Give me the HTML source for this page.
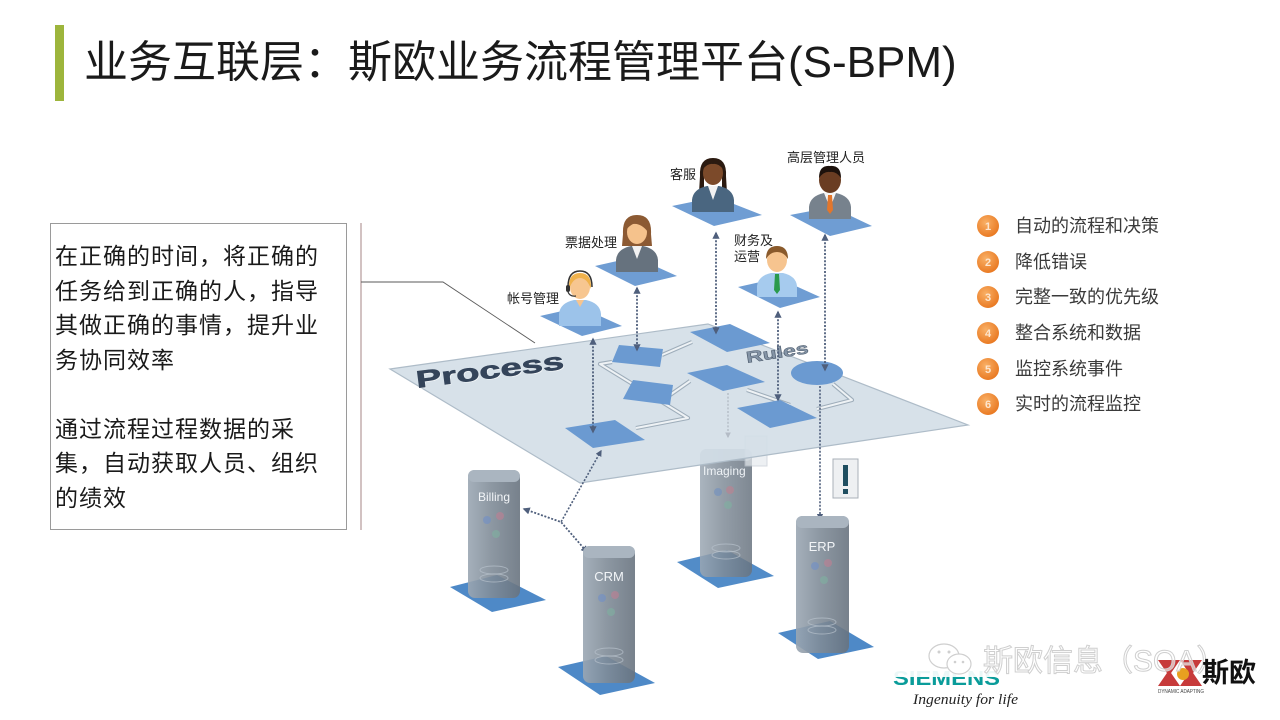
<!DOCTYPE html>
<html><head><meta charset="utf-8"><style>
html,body{margin:0;padding:0;background:#fff;}
#wrap{position:relative;width:1280px;height:720px;overflow:hidden;background:#fff;font-family:"Liberation Sans","Noto Sans CJK SC",sans-serif;}
.abs{position:absolute;white-space:nowrap;}
#title{left:84px;top:40px;font-size:44px;line-height:46px;color:#1a1a1a;font-family:"Liberation Sans","Noto Sans CJK SC",sans-serif;}
#bar{left:55px;top:25px;width:9px;height:76px;background:#9db53c;}
#box{left:50px;top:223px;width:295px;height:305px;border:1px solid #9a9a9a;}
#boxtext{left:55px;top:239px;font-size:23px;line-height:34.5px;letter-spacing:1px;color:#1a1a1a;font-family:"Liberation Sans","Noto Sans CJK SC",sans-serif;white-space:pre;}
.li{position:absolute;left:1015px;font-size:18px;line-height:20px;color:#3a3a3a;font-family:"Liberation Sans","Noto Sans CJK SC",sans-serif;white-space:nowrap;}
#wm{left:983px;top:645px;font-size:30px;line-height:34px;color:rgba(255,255,255,0.6);-webkit-text-stroke:1px #cfcfcf;font-family:"Liberation Sans","Noto Sans CJK SC",sans-serif;}
#soa2{left:1202px;top:658px;font-size:27px;line-height:30px;font-weight:bold;color:#111;font-family:"Liberation Sans","Noto Sans CJK SC",sans-serif;}
</style></head><body><div id="wrap">
<svg width="1280" height="720" viewBox="0 0 1280 720" style="position:absolute;left:0;top:0">
<defs>
<linearGradient id="srv" x1="0" x2="1" y1="0" y2="0">
<stop offset="0" stop-color="#9ba7b3"/><stop offset="0.45" stop-color="#808c98"/><stop offset="1" stop-color="#68737f"/></linearGradient>
<radialGradient id="org" cx="0.4" cy="0.35" r="0.7"><stop offset="0" stop-color="#f9b066"/><stop offset="1" stop-color="#e8761e"/></radialGradient>
<marker id="ah" viewBox="0 0 10 10" refX="8" refY="5" markerWidth="4" markerHeight="4" orient="auto-start-reverse"><path d="M0,0 L10,5 L0,10z" fill="#4f5f7c"/></marker>
<marker id="ah2" viewBox="0 0 10 10" refX="8" refY="5" markerWidth="4" markerHeight="4" orient="auto-start-reverse"><path d="M0,0 L10,5 L0,10z" fill="#b4bcc6"/></marker>
</defs>

<!-- bracket connector -->
<line x1="361" y1="223" x2="361" y2="530" stroke="#b39a9a" stroke-width="1.2"/>
<polyline points="361,282 443,282 535,343" fill="none" stroke="#5a5a5a" stroke-width="0.9"/>

<!-- Imaging server (behind plane) -->
<polygon points="677,562 727,550 774,576 718,588" fill="#3f7fc2" opacity="0.9"/>
<rect x="700" y="449" width="52" height="128" rx="7" fill="url(#srv)" opacity="0.85"/>
<rect x="700" y="449" width="52" height="12" rx="6" fill="#aab5c0" opacity="0.8"/>
<circle cx="718" cy="492" r="4" fill="#6f8fc0" opacity="0.6"/><circle cx="730" cy="490" r="4" fill="#c08090" opacity="0.6"/><circle cx="728" cy="505" r="4" fill="#7fb0a0" opacity="0.6"/>
<ellipse cx="726" cy="548" rx="14" ry="4" fill="none" stroke="#b8c2cc" opacity="0.7"/><ellipse cx="726" cy="555" rx="14" ry="4" fill="none" stroke="#b8c2cc" opacity="0.7"/>
<text x="703" y="475" font-family="Liberation Sans" font-size="12" fill="#eef2f6">Imaging</text>
<rect x="745" y="436" width="22" height="30" fill="#e6ebef" stroke="#c2cad2" opacity="0.7"/>

<!-- plane -->
<polygon points="390,369 708,324 968,425 580,483" fill="#d3dee7" fill-opacity="0.9" stroke="#aebcc8" stroke-width="1.2"/>

<!-- flowchart connector pipes -->
<g fill="none" stroke-linejoin="round">
<g stroke="#9eadba" stroke-width="4.2">
<polyline points="662,355 692,342"/>
<polyline points="612,362 600,364 688,418 636,428"/>
<polyline points="670,395 690,381"/>
<polyline points="747,390 790,405"/>
<polyline points="833,384 852,400 817,409"/>
</g>
<g stroke="#eef2f5" stroke-width="2">
<polyline points="662,355 692,342"/>
<polyline points="612,362 600,364 688,418 636,428"/>
<polyline points="670,395 690,381"/>
<polyline points="747,390 790,405"/>
<polyline points="833,384 852,400 817,409"/>
</g>
</g>
<!-- flowchart shapes -->
<g fill="#6b9ad1">
<polygon points="690,332 730,324 770,343 727,352"/>
<polygon points="619,345 663,349 660,367 612,362"/>
<polygon points="633,380 673,385 670,405 623,399"/>
<polygon points="687,373 727,365 765,382 723,391"/>
<polygon points="737,408 780,400 817,418 770,428"/>
<polygon points="565,428 615,420 645,440 593,448"/>
<ellipse cx="817" cy="373" rx="26" ry="12"/>
</g>
<text transform="translate(417,388) rotate(-7.4)" font-family="Liberation Sans" font-weight="bold" font-size="24" textLength="149" lengthAdjust="spacingAndGlyphs" fill="#ffffff" opacity="0.7" x="1" y="1">Process</text>
<text transform="translate(417,388) rotate(-7.4)" font-family="Liberation Sans" font-weight="bold" font-size="24" textLength="149" lengthAdjust="spacingAndGlyphs" fill="#34445a" stroke="#34445a" stroke-width="0.6">Process</text>
<text transform="translate(747,363) rotate(-9)" font-family="Liberation Sans" font-weight="bold" font-size="16" textLength="63" lengthAdjust="spacingAndGlyphs" fill="#8494a6" stroke="#4f5d6e" stroke-width="0.5">Rules</text>

<!-- person tiles -->
<g fill="#6f9dd3">
<polygon points="672,206 716,197 762,215 714,226"/>
<polygon points="790,215 832,207 872,226 830,236"/>
<polygon points="595,266 635,257 677,276 635,286"/>
<polygon points="738,287 778,278 820,297 780,308"/>
<polygon points="540,316 580,307 622,326 582,336"/>
</g>

<!-- persons -->
<g transform="translate(713,173)">
<path d="M-13,3 Q-14,-15 0,-15 Q14,-15 13,3 L14,20 L9,20 L9,4 L-9,4 L-9,20 L-14,20Z" fill="#2b1a10"/>
<path d="M-21,39 L-21,27 Q-20,16 -6,13 L6,13 Q20,16 21,27 L21,39Z" fill="#4a6680"/>
<path d="M-5,13 L0,27 L5,13Z" fill="#f2f2f2"/>
<ellipse cx="0" cy="0" rx="10" ry="12" fill="#7c4a2a"/>
<path d="M-10,-4 Q-8,-14 0,-13 Q8,-14 10,-4 Q5,-10 0,-9 Q-5,-10 -10,-4Z" fill="#2b1a10"/>
</g>
<g transform="translate(830,180)">
<path d="M-21,39 L-21,27 Q-20,16 -6,13 L6,13 Q20,16 21,27 L21,39Z" fill="#77828d"/>
<path d="M-6,13 L0,28 L6,13Z" fill="#f4f4f4"/>
<path d="M-2,15 L2,15 L3,30 L0,34 L-3,30Z" fill="#e2762c"/>
<ellipse cx="0" cy="0" rx="11" ry="13" fill="#6a3d22"/>
<path d="M-11,-2 Q-11,-15 0,-14 Q11,-15 11,-2 Q6,-9 0,-8 Q-6,-9 -11,-2Z" fill="#1d120c"/>
</g>
<g transform="translate(637,230)">
<path d="M-14,4 Q-15,-15 0,-15 Q15,-15 14,4 L15,16 L-15,16Z" fill="#8c5a33"/>
<path d="M-21,42 L-21,30 Q-20,19 -6,16 L6,16 Q20,19 21,30 L21,42Z" fill="#66727e"/>
<path d="M-5,16 L0,29 L5,16Z" fill="#f2f2f2"/>
<ellipse cx="0" cy="2" rx="10" ry="12" fill="#f5c28c"/>
<path d="M-11,0 Q-8,-13 0,-12 Q9,-12 11,2 Q4,-7 -4,-6 Q-8,-4 -11,0Z" fill="#8c5a33"/>
</g>
<g transform="translate(777,260)">
<path d="M-20,37 L-20,26 Q-19,16 -6,13 L6,13 Q19,16 20,26 L20,37Z" fill="#a6cbee"/>
<path d="M-2,14 L2,14 L3,30 L0,34 L-3,30Z" fill="#2a9a4c"/>
<ellipse cx="0" cy="0" rx="10" ry="12" fill="#f6c48f"/>
<path d="M-11,-1 Q-11,-14 0,-14 Q11,-14 11,-1 Q7,-8 0,-8 Q-7,-8 -11,-1Z" fill="#8a5a2c"/>
</g>
<g transform="translate(580,287)">
<path d="M-21,39 L-21,27 Q-20,16 -6,13 L6,13 Q20,16 21,27 L21,39Z" fill="#9cc3ea"/>
<path d="M-4,13 L0,20 L4,13Z" fill="#f6c48f"/>
<ellipse cx="0" cy="0" rx="10" ry="12" fill="#f7c690"/>
<path d="M-11,2 Q-12,-14 0,-14 Q12,-14 11,2 Q7,-9 0,-9 Q-7,-9 -11,2Z" fill="#f0b24c"/>
<path d="M-12,0 Q-12,-16 0,-16 Q12,-16 12,0" fill="none" stroke="#333" stroke-width="1.5"/>
<rect x="-14" y="-2" width="4" height="7" rx="2" fill="#333"/>
<path d="M-12,5 Q-10,10 -4,9" fill="none" stroke="#333" stroke-width="1.2"/>
</g>

<!-- person labels -->
<g font-family="Liberation Sans, Noto Sans CJK SC, sans-serif" font-size="13" fill="#222">
<text x="670" y="179">客服</text>
<text x="787" y="162">高层管理人员</text>
<text x="565" y="247">票据处理</text>
<text x="734" y="245">财务及</text>
<text x="734" y="261">运营</text>
<text x="507" y="303">帐号管理</text>
</g>

<!-- dotted arrows -->
<g fill="none" stroke="#4f5f7c" stroke-width="1.8" stroke-dasharray="2,1.6" marker-start="url(#ah)" marker-end="url(#ah)">
<line x1="593" y1="339" x2="593" y2="432"/>
<line x1="637" y1="288" x2="637" y2="350"/>
<line x1="716" y1="233" x2="716" y2="333"/>
<line x1="778" y1="312" x2="778" y2="400"/>
<line x1="825" y1="235" x2="825" y2="370"/>
</g>
<line x1="820" y1="386" x2="820" y2="519" stroke="#4f5f7c" stroke-width="1.6" stroke-dasharray="2,1.6" marker-end="url(#ah)"/>
<line x1="728" y1="393" x2="728" y2="437" stroke="#b4bcc6" stroke-width="1.4" stroke-dasharray="2,1.6" marker-end="url(#ah2)"/>
<polyline points="601,451 561,522" fill="none" stroke="#4f5f7c" stroke-width="1.6" stroke-dasharray="2,1.6" marker-start="url(#ah)"/>
<polyline points="524,509 561,522 587,552" fill="none" stroke="#4f5f7c" stroke-width="1.8" stroke-dasharray="2,1.6" marker-start="url(#ah)" marker-end="url(#ah)"/>

<!-- servers -->
<g>
<polygon points="450,587 497,575 546,600 492,612" fill="#3f7fc2" opacity="0.92"/>
<rect x="468" y="470" width="52" height="128" rx="7" fill="url(#srv)" opacity="0.9"/>
<rect x="468" y="470" width="52" height="12" rx="6" fill="#aab5c0"/>
<circle cx="487" cy="520" r="4" fill="#6f8fc8" opacity="0.6"/><circle cx="500" cy="516" r="4" fill="#c07f92" opacity="0.6"/><circle cx="496" cy="534" r="4" fill="#7fb0a0" opacity="0.6"/>
<ellipse cx="494" cy="570" rx="14" ry="4" fill="none" stroke="#b8c2cc" opacity="0.7"/><ellipse cx="494" cy="578" rx="14" ry="4" fill="none" stroke="#b8c2cc" opacity="0.7"/>
<text x="494" y="501" text-anchor="middle" font-family="Liberation Sans" font-size="12" fill="#f2f5f8">Billing</text>
</g>
<g>
<polygon points="558,667 606,656 655,683 600,695" fill="#3f7fc2" opacity="0.92"/>
<rect x="583" y="546" width="52" height="137" rx="7" fill="url(#srv)" opacity="0.9"/>
<rect x="583" y="546" width="52" height="12" rx="6" fill="#aab5c0"/>
<circle cx="602" cy="598" r="4" fill="#6f8fc8" opacity="0.6"/><circle cx="615" cy="595" r="4" fill="#c07f92" opacity="0.6"/><circle cx="611" cy="612" r="4" fill="#7fb0a0" opacity="0.6"/>
<ellipse cx="609" cy="652" rx="14" ry="4" fill="none" stroke="#b8c2cc" opacity="0.7"/><ellipse cx="609" cy="660" rx="14" ry="4" fill="none" stroke="#b8c2cc" opacity="0.7"/>
<text x="609" y="581" text-anchor="middle" font-family="Liberation Sans" font-size="13" fill="#f2f5f8">CRM</text>
</g>
<g>
<polygon points="778,633 830,621 874,647 818,659" fill="#3f7fc2" opacity="0.92"/>
<rect x="796" y="516" width="53" height="137" rx="7" fill="url(#srv)" opacity="0.9"/>
<rect x="796" y="516" width="53" height="12" rx="6" fill="#aab5c0"/>
<circle cx="815" cy="566" r="4" fill="#6f8fc8" opacity="0.6"/><circle cx="828" cy="563" r="4" fill="#c07f92" opacity="0.6"/><circle cx="824" cy="580" r="4" fill="#7fb0a0" opacity="0.6"/>
<ellipse cx="822" cy="622" rx="14" ry="4" fill="none" stroke="#b8c2cc" opacity="0.7"/><ellipse cx="822" cy="630" rx="14" ry="4" fill="none" stroke="#b8c2cc" opacity="0.7"/>
<text x="822" y="551" text-anchor="middle" font-family="Liberation Sans" font-size="13" fill="#f2f5f8">ERP</text>
</g>

<!-- alert sign -->
<rect x="833" y="459" width="25" height="39" fill="#eef0f2" stroke="#a9b0b8" stroke-width="1"/>
<rect x="843" y="465" width="5" height="21" fill="#1f4e60"/>
<rect x="843" y="489" width="5" height="5" fill="#1f4e60"/>

<!-- list circles -->
<g>
<circle cx="988" cy="226" r="11" fill="url(#org)"/>
<circle cx="988" cy="262" r="11" fill="url(#org)"/>
<circle cx="988" cy="297" r="11" fill="url(#org)"/>
<circle cx="988" cy="333" r="11" fill="url(#org)"/>
<circle cx="988" cy="369" r="11" fill="url(#org)"/>
<circle cx="988" cy="404" r="11" fill="url(#org)"/>
</g>
<g font-family="Liberation Sans" font-size="11" font-weight="bold" fill="#fde6cf" text-anchor="middle">
<text x="988" y="230">1</text><text x="988" y="266">2</text><text x="988" y="301">3</text>
<text x="988" y="337">4</text><text x="988" y="373">5</text><text x="988" y="408">6</text>
</g>

<!-- Siemens logo -->
<text x="893" y="685" font-family="Liberation Sans" font-weight="bold" font-size="20" textLength="107" lengthAdjust="spacingAndGlyphs" fill="#0a9c9a">SIEMENS</text>
<rect x="888" y="658" width="118" height="19" fill="#ffffff" opacity="0.92"/>
<text x="913" y="704" font-family="Liberation Serif" font-style="italic" font-size="15" textLength="105" lengthAdjust="spacingAndGlyphs" fill="#222">Ingenuity for life</text>

<!-- wechat icon -->
<ellipse cx="944" cy="656" rx="15" ry="12" fill="#fff" stroke="#cfcfcf" stroke-width="1.2"/>
<circle cx="939" cy="652" r="1.5" fill="#cfcfcf"/><circle cx="949" cy="652" r="1.5" fill="#cfcfcf"/>
<ellipse cx="959" cy="664" rx="12" ry="10" fill="#fff" stroke="#cfcfcf" stroke-width="1.2"/>
<circle cx="955" cy="662" r="1.3" fill="#cfcfcf"/><circle cx="963" cy="662" r="1.3" fill="#cfcfcf"/>

<!-- SOA logo -->
<polygon points="1158,660 1180,660 1169,676" fill="#c73a3a"/>
<polygon points="1180,660 1202,660 1191,676" fill="#c73a3a"/>
<polygon points="1158,686 1169,670 1180,686" fill="#c73a3a"/>
<polygon points="1180,686 1191,670 1202,686" fill="#c73a3a"/>
<circle cx="1183" cy="674" r="6" fill="#e8a020"/>
<text x="1158" y="693" font-family="Liberation Sans" font-size="5" fill="#444" textLength="46" lengthAdjust="spacingAndGlyphs">DYNAMIC ADAPTING</text>
</svg>

<div id="bar" class="abs"></div>
<div id="title" class="abs">业务互联层：斯欧业务流程管理平台(S-BPM)</div>
<div id="box" class="abs"></div>
<div id="boxtext" class="abs">在正确的时间，将正确的
任务给到正确的人，指导
其做正确的事情，提升业
务协同效率

通过流程过程数据的采
集，自动获取人员、组织
的绩效</div>

<div class="li" style="top:216px">自动的流程和决策</div>
<div class="li" style="top:252px">降低错误</div>
<div class="li" style="top:287px">完整一致的优先级</div>
<div class="li" style="top:323px">整合系统和数据</div>
<div class="li" style="top:359px">监控系统事件</div>
<div class="li" style="top:394px">实时的流程监控</div>

<div id="wm" class="abs">斯欧信息（SOA）</div>
<div id="soa2" class="abs">斯欧</div>
</div></body></html>
